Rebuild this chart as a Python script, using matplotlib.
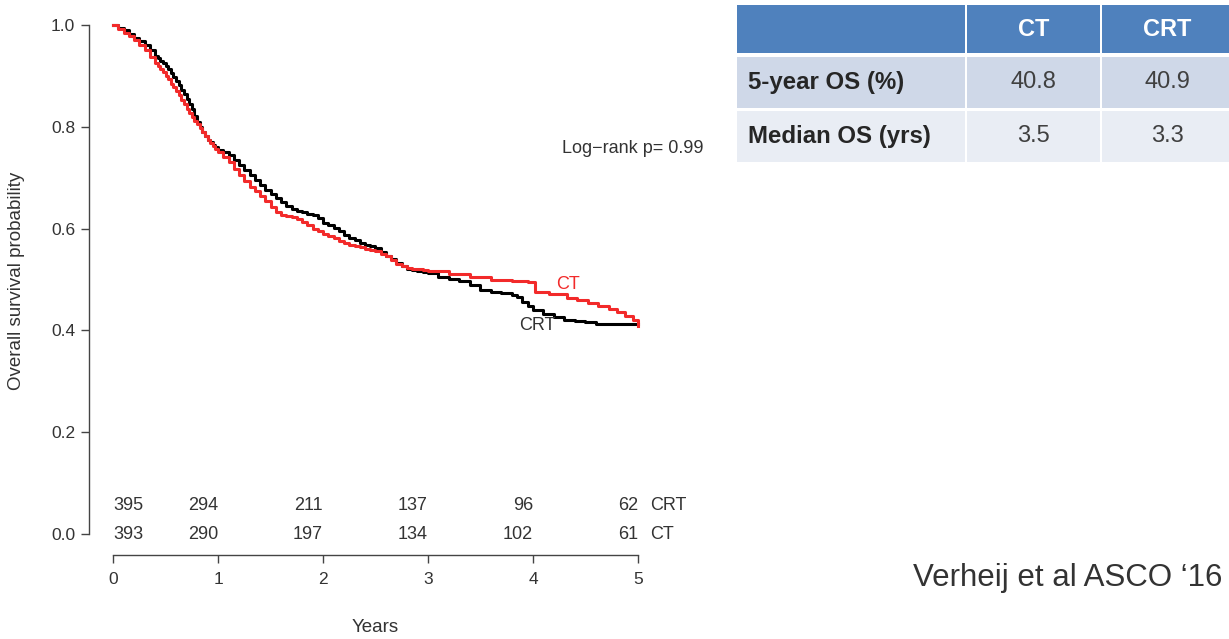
import numpy as np
import matplotlib.pyplot as plt
from matplotlib.patches import Rectangle

plt.rcParams['font.family'] = ['Liberation Sans', 'DejaVu Sans']

# Kaplan-Meier estimates (years, survival)
t_crt = [0.0, 0.05, 0.1, 0.15, 0.2, 0.25, 0.3, 0.35,
         0.4, 0.425, 0.45, 0.475, 0.5, 0.525, 0.55, 0.575, 0.6, 0.625, 0.65, 0.675,
         0.7, 0.725, 0.75, 0.775, 0.8, 0.825, 0.85, 0.875, 0.9, 0.925, 0.95, 0.975,
         1.0, 1.05, 1.1, 1.15, 1.2, 1.25, 1.3, 1.35, 1.4, 1.45, 1.5, 1.55, 1.6, 1.65,
         1.7, 1.75, 1.8, 1.85, 1.9, 1.95, 2.0, 2.05, 2.1, 2.15, 2.2, 2.25, 2.3, 2.35,
         2.4, 2.45, 2.5, 2.55, 2.6, 2.65, 2.7, 2.75, 2.8, 2.85, 2.9, 2.95,
         3.0, 3.1, 3.2, 3.3, 3.4, 3.5, 3.6, 3.7, 3.8, 3.85, 3.9, 3.95,
         4.0, 4.1, 4.2, 4.3, 4.4, 4.5, 4.6, 5.0]
s_crt = [1.0, 0.995, 0.99, 0.982, 0.975, 0.968, 0.96, 0.95,
         0.94, 0.935, 0.93, 0.925, 0.92, 0.913, 0.905, 0.898, 0.89, 0.882, 0.873, 0.864,
         0.855, 0.845, 0.835, 0.822, 0.81, 0.8, 0.79, 0.782, 0.775, 0.77, 0.765, 0.76,
         0.755, 0.75, 0.745, 0.735, 0.725, 0.715, 0.705, 0.695, 0.685, 0.675, 0.668, 0.66, 0.652, 0.645,
         0.638, 0.634, 0.632, 0.629, 0.626, 0.62, 0.612, 0.607, 0.602, 0.595, 0.588, 0.582, 0.577, 0.572,
         0.567, 0.565, 0.562, 0.555, 0.547, 0.54, 0.532, 0.526, 0.521, 0.519, 0.517, 0.515,
         0.512, 0.506, 0.501, 0.497, 0.489, 0.48, 0.476, 0.474, 0.469, 0.465, 0.456, 0.448,
         0.44, 0.432, 0.427, 0.421, 0.419, 0.416, 0.413, 0.412]

t_ct = [0.0, 0.05, 0.1, 0.15, 0.2, 0.25, 0.3, 0.35,
        0.4, 0.425, 0.45, 0.475, 0.5, 0.525, 0.55, 0.575, 0.6, 0.625, 0.65, 0.675,
        0.7, 0.725, 0.75, 0.775, 0.8, 0.825, 0.85, 0.875, 0.9, 0.925, 0.95, 0.975,
        1.0, 1.05, 1.1, 1.15, 1.2, 1.25, 1.3, 1.35, 1.4, 1.45, 1.5, 1.55, 1.6, 1.65,
        1.7, 1.75, 1.8, 1.85, 1.9, 1.95, 2.0, 2.05, 2.1, 2.15, 2.2, 2.25, 2.3, 2.35,
        2.4, 2.45, 2.5, 2.55, 2.6, 2.65, 2.7, 2.75, 2.8, 2.85, 2.9, 2.95,
        3.0, 3.2, 3.4, 3.6, 3.8, 3.95, 4.02, 4.15, 4.32, 4.42, 4.52, 4.62, 4.72, 4.8,
        4.88, 4.95, 5.0]
s_ct = [1.0, 0.992, 0.985, 0.978, 0.97, 0.96, 0.95, 0.938,
        0.925, 0.919, 0.913, 0.907, 0.9, 0.893, 0.885, 0.878, 0.87, 0.862, 0.853, 0.844,
        0.835, 0.828, 0.82, 0.812, 0.805, 0.797, 0.79, 0.782, 0.775, 0.769, 0.762, 0.756,
        0.75, 0.74, 0.73, 0.718, 0.705, 0.693, 0.682, 0.673, 0.665, 0.654, 0.642, 0.632, 0.626, 0.624,
        0.622, 0.618, 0.614, 0.607, 0.6, 0.595, 0.59, 0.586, 0.582, 0.576, 0.571, 0.568, 0.565, 0.563,
        0.561, 0.558, 0.556, 0.551, 0.546, 0.538, 0.531, 0.526, 0.523, 0.521, 0.52, 0.518,
        0.516, 0.511, 0.506, 0.5, 0.497, 0.495, 0.476, 0.471, 0.464, 0.459, 0.454, 0.449, 0.443, 0.436,
        0.428, 0.42, 0.408]

risk_times = [0, 1, 2, 3, 4, 5]
risk_crt = [395, 294, 211, 137, 96, 62]
risk_ct = [393, 290, 197, 134, 102, 61]

# summary table
col_heads = ['CT', 'CRT']
row_heads = ['5-year OS (%)', 'Median OS (yrs)']
table_vals = [['40.8', '40.9'], ['3.5', '3.3']]

RED = '#f22a2a'
GREY = '#333333'

fig = plt.figure(figsize=(12.29, 6.39), dpi=100)
ax = fig.add_axes([89 / 1229, 84 / 639, 571 / 1229, 545 / 639])
ax.set_xlim(-0.229, 5.21)
ax.set_ylim(-0.041, 1.0295)

ax.step(t_crt, s_crt, where='post', color='black', lw=2.2)
ax.step(t_ct, s_ct, where='post', color=RED, lw=2.2)

for sp in ['top', 'right']:
    ax.spines[sp].set_visible(False)
ax.spines['left'].set_bounds(0, 1)
ax.spines['bottom'].set_bounds(0, 5)
for sp in ['left', 'bottom']:
    ax.spines[sp].set_color('#444444')
    ax.spines[sp].set_linewidth(1.0)
ax.set_yticks([0, 0.2, 0.4, 0.6, 0.8, 1.0])
ax.set_yticklabels(['0.0', '0.2', '0.4', '0.6', '0.8', '1.0'])
ax.set_xticks(risk_times)
ax.tick_params(axis='both', direction='out', length=6, width=1, color='#444444',
               labelsize=12.5, labelcolor=GREY)
ax.tick_params(axis='y', pad=4)
ax.tick_params(axis='x', pad=6)

# numbers at risk
fs = 13
for i, tt in enumerate(risk_times):
    ha = 'left' if i == 0 else 'right'
    ax.text(tt, 0.057, str(risk_crt[i]), ha=ha, va='center', fontsize=fs, color=GREY)
    ax.text(tt, 0.0, str(risk_ct[i]), ha=ha, va='center', fontsize=fs, color=GREY)
ax.text(5.114, 0.057, 'CRT', ha='left', va='center', fontsize=fs, color=GREY)
ax.text(5.114, 0.0, 'CT', ha='left', va='center', fontsize=fs, color=GREY)

ax.text(4.33, 0.49, 'CT', color=RED, fontsize=fs, ha='center', va='center')
ax.text(4.04, 0.409, 'CRT', color=GREY, fontsize=fs, ha='center', va='center')
ax.text(5.62, 0.758, 'Log\u2212rank p= 0.99', ha='right', va='center', fontsize=13,
        color=GREY, clip_on=False)

fig.text(375 / 1229, 1 - 628 / 639, 'Years', ha='center', va='center', fontsize=13.5, color=GREY)
fig.text(17 / 1229, 1 - 281 / 639, 'Overall survival probability', rotation=90,
         ha='center', va='center', fontsize=13.5, color=GREY)

# table drawn in pixel coordinates
tax = fig.add_axes([0, 0, 1, 1])
tax.set_xlim(0, 1229)
tax.set_ylim(639, 0)
tax.axis('off')
col_x = [(737, 965), (967, 1100), (1102, 1232)]
row_y = [(5, 53), (57, 108), (111, 162)]
fills = ['#4f81bd', '#cfd8e8', '#e9edf4']
for r, (y0, y1) in enumerate(row_y):
    for (x0, x1) in col_x:
        tax.add_patch(Rectangle((x0, y0), x1 - x0, y1 - y0, facecolor=fills[r],
                                edgecolor='none'))
for j, head in enumerate(col_heads):
    x0, x1 = col_x[j + 1]
    tax.text((x0 + x1) / 2, 29, head, ha='center', va='center', fontsize=17,
             fontweight='bold', color='white')
for i, lab in enumerate(row_heads):
    y0, y1 = row_y[i + 1]
    tax.text(748, (y0 + y1) / 2, lab, ha='left', va='center', fontsize=17.3,
             fontweight='bold', color='#262626')
    for j in range(2):
        x0, x1 = col_x[j + 1]
        tax.text((x0 + x1) / 2, (y0 + y1) / 2, table_vals[i][j], ha='center', va='center',
                 fontsize=17, color='#404040')

tax.text(1222, 578, 'Verheij et al ASCO \u201816', ha='right', va='center', fontsize=22.5,
         color='#333333')

fig.savefig('out.png', dpi=100)
